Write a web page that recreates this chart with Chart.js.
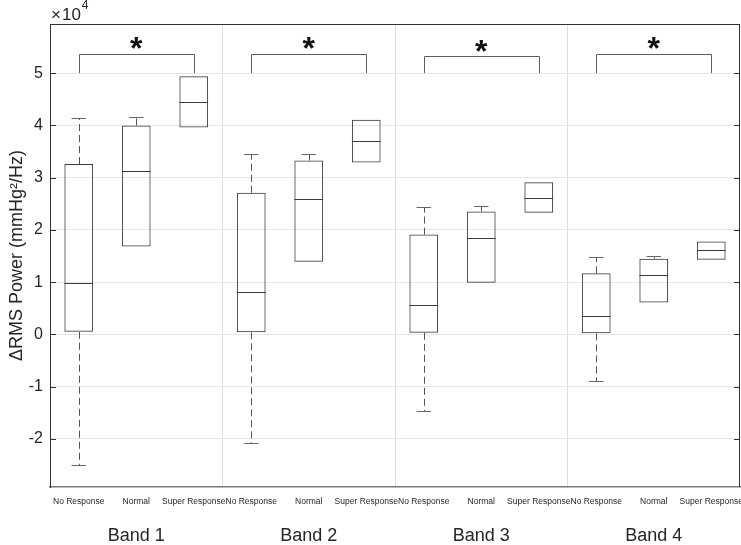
<!DOCTYPE html>
<html><head><meta charset="utf-8">
<script src="https://cdn.jsdelivr.net/npm/chart.js@4"></script>
<style>html,body{margin:0;padding:0;background:#fff}#wrap{width:741px;height:545px}</style>
</head><body><div id="wrap"><canvas id="c" width="741" height="545"></canvas></div>
<script>
// ---- data (units: mmHg^2/Hz) ----
const groups = ['No Response', 'Normal', 'Super Response'];
const bands = ['Band 1', 'Band 2', 'Band 3', 'Band 4'];
const categories = bands.flatMap(() => groups);
const whiskerLow  = [-25000, 16800, 39600, -20800, 13900, 32900, -14700,  9900, 23300, -9000,  6100, 14300];
const q1          = [   500, 16800, 39600,    400, 13900, 32900,    300,  9900, 23300,   200,  6100, 14300];
const median      = [  9750, 31200, 44400,   8100, 25900, 37000,   5700, 18400, 26100,  3600, 11300, 16100];
const q3          = [ 32600, 40000, 49400,  27100, 33300, 41100,  19100, 23500, 29100, 11700, 14500, 17800];
const whiskerHigh = [ 41400, 41600, 49400,  34500, 34600, 41100,  24300, 24500, 29100, 14900, 15000, 17800];
const yTicks = [-2, -1, 0, 1, 2, 3, 4, 5];          // tick labels, ×10^4
const bracketBase = [50000, 50000, 50000, 50000];
const bracketTop  = [53700, 53700, 53200, 53600];
const starLevel   = [55800, 55800, 55200, 55800];

const FONT = "'Liberation Sans', Arial, Helvetica, sans-serif";
const TXT = '#262626';

function seg(ctx, x1, y1, x2, y2) { ctx.beginPath(); ctx.moveTo(x1, y1); ctx.lineTo(x2, y2); ctx.stroke(); }
const crisp = v => Math.round(v) + 0.5;

const boxPlugin = {
  id: 'boxExtras',
  afterDatasetsDraw(chart) {
    const { ctx, scales: { x, y }, chartArea: a } = chart;
    const meta = chart.getDatasetMeta(0);
    ctx.save();
    ctx.lineWidth = 1;
    meta.data.forEach((bar, i) => {
      const half = bar.width / 2;
      const cx = bar.x;
      const l = cx - half, r = cx + half;
      ctx.setLineDash([]);
      ctx.strokeStyle = '#3c3c3c';
      const ym = crisp(y.getPixelForValue(median[i]));
      seg(ctx, l, ym, r, ym);
      const cxc = crisp(cx);
      if (whiskerHigh[i] > q3[i]) {
        const yt = crisp(y.getPixelForValue(whiskerHigh[i]));
        const yb = y.getPixelForValue(q3[i]);
        ctx.strokeStyle = '#555';
        ctx.setLineDash([7, 4]);
        seg(ctx, cxc, yb, cxc, yt);
        ctx.setLineDash([]);
        ctx.strokeStyle = '#666';
        seg(ctx, cx - half / 2, yt, cx + half / 2, yt);
      }
      if (whiskerLow[i] < q1[i]) {
        const yt = y.getPixelForValue(q1[i]);
        const yb = crisp(y.getPixelForValue(whiskerLow[i]));
        ctx.strokeStyle = '#555';
        ctx.setLineDash([7, 4]);
        seg(ctx, cxc, yt, cxc, yb);
        ctx.setLineDash([]);
        ctx.strokeStyle = '#666';
        seg(ctx, cx - half / 2, yb, cx + half / 2, yb);
      }
    });
    bands.forEach((b, k) => {
      const xl = crisp(x.getPixelForValue(3 * k));
      const xr = crisp(x.getPixelForValue(3 * k + 2));
      const yb = y.getPixelForValue(bracketBase[k]);
      const yt = crisp(y.getPixelForValue(bracketTop[k]));
      ctx.strokeStyle = '#5e5e5e';
      ctx.beginPath();
      ctx.moveTo(xl, yb); ctx.lineTo(xl, yt); ctx.lineTo(xr, yt); ctx.lineTo(xr, yb);
      ctx.stroke();
      ctx.fillStyle = '#111';
      ctx.font = 'bold 32px ' + FONT;
      ctx.textAlign = 'center';
      ctx.textBaseline = 'alphabetic';
      const m = ctx.measureText('*');
      const cy = y.getPixelForValue(starLevel[k]);
      ctx.fillText('*', x.getPixelForValue(3 * k + 1), cy + (m.actualBoundingBoxAscent - m.actualBoundingBoxDescent) / 2);
    });
    ctx.strokeStyle = '#333';
    ctx.setLineDash([]);
    seg(ctx, a.left, crisp(a.top), a.right, crisp(a.top));
    seg(ctx, Math.round(a.right) - 0.5, a.top, Math.round(a.right) - 0.5, a.bottom);
    yTicks.forEach(t => {
      const py = crisp(y.getPixelForValue(t * 1e4));
      seg(ctx, a.left, py, a.left + 6, py);
      seg(ctx, a.right - 6, py, a.right, py);
    });
    // exponent label
    ctx.fillStyle = TXT;
    ctx.textAlign = 'left';
    ctx.textBaseline = 'alphabetic';
    ctx.font = '17px ' + FONT;
    ctx.fillText('\u00d7', a.left + 1, 20);
    const w1 = ctx.measureText('\u00d7').width;
    ctx.fillText('10', a.left + 2 + w1, 20);
    const w2 = ctx.measureText('10').width;
    ctx.font = '12px ' + FONT;
    ctx.fillText('4', a.left + 3 + w1 + w2, 9);
    ctx.restore();
  }
};

new Chart(document.getElementById('c'), {
  type: 'bar',
  data: {
    labels: categories,
    datasets: [{
      data: q1.map((v, i) => [v, q3[i]]),
      backgroundColor: 'rgba(0,0,0,0)',
      borderColor: '#3c3c3c',
      borderWidth: 1,
      borderSkipped: false,
      barPercentage: 0.5,
      categoryPercentage: 1.0
    }]
  },
  options: {
    responsive: false,
    devicePixelRatio: 1,
    animation: false,
    layout: { padding: { top: 24, right: 1, left: 0, bottom: 0 } },
    plugins: { legend: { display: false }, tooltip: { enabled: false } },
    scales: {
      x: {
        type: 'category',
        position: 'bottom',
        weight: 0,
        offset: true,
        grid: {
          offset: true,
          drawTicks: false,
          color: c => (c.index === 3 || c.index === 6 || c.index === 9) ? '#dcdcdc' : 'rgba(0,0,0,0)',
          lineWidth: 1
        },
        border: { display: true, color: '#7a7a7a', width: 1.5 },
        ticks: { font: { family: FONT, size: 8.5 }, color: TXT, padding: 10, maxRotation: 0, autoSkip: false },
        afterFit: s => { s.height = 30; s.paddingLeft = 0; s.paddingRight = 0; }
      },
      x2: {
        type: 'category',
        position: 'bottom',
        weight: 1,
        labels: bands,
        offset: true,
        grid: { display: false, drawTicks: false },
        border: { display: false },
        ticks: { font: { family: FONT, size: 18 }, color: TXT, padding: 8 },
        afterFit: s => { s.height = 28; s.paddingLeft = 0; s.paddingRight = 0; }
      },
      y: {
        min: -29200,
        max: 59400,
        grid: { color: '#e6e6e6', drawTicks: false, lineWidth: 1 },
        border: { display: true, color: '#333', width: 1 },
        afterBuildTicks: s => { s.ticks = yTicks.map(v => ({ value: v * 1e4 })); },
        ticks: {
          font: { family: FONT, size: 16 }, color: TXT, padding: 7,
          callback: v => String(v / 1e4)
        },
        title: {
          display: true,
          text: '\u0394RMS Power (mmHg\u00b2/Hz)',
          font: { family: FONT, size: 18 },
          color: TXT,
          padding: { top: 6, bottom: 0 }
        },
        afterFit: s => { s.width = 50; }
      }
    }
  },
  plugins: [boxPlugin]
});
</script></body></html>
